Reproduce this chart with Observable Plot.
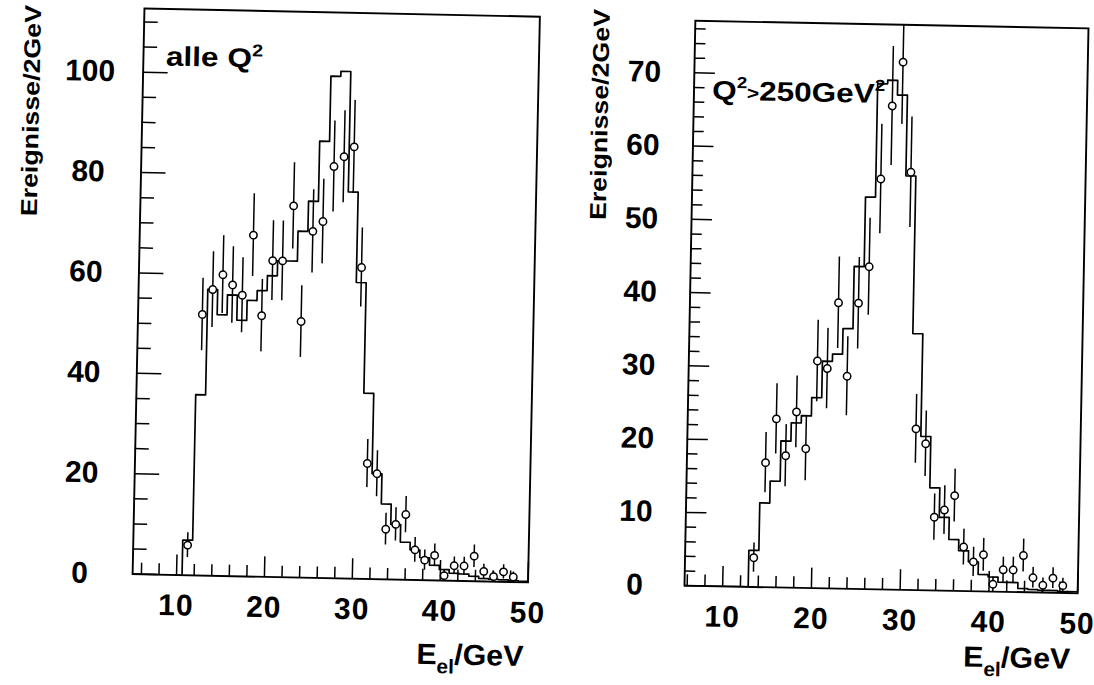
<!DOCTYPE html>
<html><head><meta charset="utf-8">
<script src="https://cdn.jsdelivr.net/npm/d3@7"></script>
<script src="https://cdn.jsdelivr.net/npm/@observablehq/plot@0.6"></script>
<style>
html,body{margin:0;padding:0;background:#fff;width:1094px;height:685px;overflow:hidden;font-family:"Liberation Sans",Arial,sans-serif;}
.panel{position:absolute;top:0;}
</style></head><body>
<div id="left" class="panel" style="left:0px"></div>
<div id="right" class="panel" style="left:560px"></div>
<script>
// ---- data ----
const binWidth = 1.125; // GeV
const binCenters = [5.5625,6.6875,7.8125,8.9375,10.0625,11.1875,12.3125,13.4375,14.5625,15.6875,16.8125,17.9375,19.0625,20.1875,21.3125,22.4375,23.5625,24.6875,25.8125,26.9375,28.0625,29.1875,30.3125,31.4375,32.5625,33.6875,34.8125,35.9375,37.0625,38.1875,39.3125,40.4375,41.5625,42.6875,43.8125,44.9375,46.0625,47.1875,48.3125,49.4375];

// left panel: alle Q^2
const histAll = [0,0,0,0,0,7,36,57,52,56,51,55,57,60,63,63,69,75,87,100,101,77,59,37,21,15,11,7.5,6,4.5,3,2.2,1.5,1.4,1,0.6,0.5,0.4,0.3,0.2];
const dataAllX = binCenters.slice(5, 39);
const dataAll = [6,52,57,60,58,56,68,52,63,63,74,51,69,71,82,84,86,62,23,21,10,11,13,6,4,5,1,3,3,5,2,1,2,1];
const errAll = [2.45,7.21,7.55,7.75,7.62,7.48,8.25,7.21,7.94,7.94,8.6,7.14,8.31,8.43,9.06,9.17,9.27,7.87,4.8,4.58,3.16,3.32,3.61,2.45,2,2.24,1,1.73,1.73,2.24,1.41,1,1.41,1];

// right panel: Q^2 > 250 GeV^2
const histHigh = [0,0,0,0,0,0,0,5,11.5,14.5,20,22.5,23.5,26,31,32,35.5,44,53.5,69,69.5,67.5,56.5,35,21,14,10,7,5.5,4,2.3,2,1.3,1.3,0.5,0.4,0.3,0.3,0.2,0.2];
const dataHighX = binCenters.slice(7, 39);
const dataHigh = [4,17,23,18,24,19,31,30,39,29,39,44,56,66,72,57,22,20,10,11,13,6,4,5,1,3,3,5,2,1,2,1];
const errHigh = [2,4.12,4.8,4.24,4.9,4.36,5.57,5.48,6.24,5.39,6.24,6.63,7.48,8.12,8.49,7.55,4.69,4.47,3.16,3.32,3.61,2.45,2,2.24,1,1.73,1.73,2.24,1.41,1,1.41,1];

const xTickLabels = [10, 20, 30, 40, 50];
const xMinorTicks = [6,8,12,14,16,18,22,24,26,28,32,34,36,38,42,44,46,48];
const yTickLabelsAll = [0, 20, 40, 60, 80, 100];
const yMinorAll = [5,10,15,25,30,35,45,50,55,65,70,75,85,90,95,105,110];
const yTickLabelsHigh = [0, 10, 20, 30, 40, 50, 60, 70];
const yMinorHigh = [2,4,6,8,12,14,16,18,22,24,26,28,32,34,36,38,42,44,46,48,52,54,56,58,62,64,66,68,72,74,76];

const FONT = '"Liberation Sans", Arial, Helvetica, sans-serif';

function makePanel(o) {
  const W = o.width, H = 685;
  const fw = W - o.ml - o.mr, fh = H - o.mt - o.mb;
  const steps = binCenters.map((c, i) => ({x: c - binWidth / 2, y: o.hist[i]}));
  steps.push({x: binCenters[binCenters.length - 1] + binWidth / 2, y: o.hist[o.hist.length - 1]});
  const pts = o.px.map((x, i) => ({x, y: o.pv[i], e: o.pe[i]}));
  const svg = Plot.plot({
    width: W, height: H,
    marginLeft: o.ml, marginRight: o.mr, marginTop: o.mt, marginBottom: o.mb,
    x: {domain: o.xd},
    y: {domain: o.yd},
    style: {fontFamily: FONT, fontWeight: "bold", color: "black", background: "transparent", overflow: "visible"},
    marks: [
      Plot.tickY(o.yMinor, {y: d => d, stroke: "black", strokeWidth: 1.5, insetRight: fw - o.yMinorLen}),
      Plot.tickY(o.yMajor, {y: d => d, stroke: "black", strokeWidth: 1.5, insetRight: fw - o.yMajorLen}),
      Plot.tickX(xMinorTicks, {x: d => d, stroke: "black", strokeWidth: 1.5, insetTop: fh - 11}),
      Plot.tickX(xTickLabels, {x: d => d, stroke: "black", strokeWidth: 1.5, insetTop: fh - 20}),
      Plot.line(steps, {x: "x", y: "y", curve: "step-after", stroke: "black", strokeWidth: 1.7, clip: true}),
      Plot.ruleX(pts, {x: "x", y1: d => d.y - d.e, y2: d => d.y + d.e, stroke: "black", strokeWidth: 1.5, clip: true}),
      Plot.dot(pts, {x: "x", y: "y", r: 3.7, fill: "white", stroke: "black", strokeWidth: 1.5}),
      Plot.frame({stroke: "black", strokeWidth: 1.9}),
      Plot.axisY({ticks: o.yMajor, tickSize: 0, tickPadding: o.yPad, textAnchor: "middle", fontSize: 30, fontWeight: "bold", label: null}),
      Plot.axisX({ticks: xTickLabels, tickSize: 0, tickPadding: 19, fontSize: 30, fontWeight: "bold", label: null})
    ]
  });
  const s = d3.select(svg);
  s.selectAll('[aria-label="x-axis tick label"] text').attr("letter-spacing", "1px");
  // y axis title
  s.append("text")
    .attr("transform", `translate(${o.ylabX},${o.ylabY}) rotate(-90)`)
    .attr("text-anchor", "middle").attr("dy", "0.35em")
    .attr("font-family", FONT).attr("font-weight", "bold").attr("font-size", 23)
    .attr("textLength", 211).attr("lengthAdjust", "spacingAndGlyphs")
    .attr("fill", "black")
    .text("Ereignisse/2GeV");
  // x axis title E_el/GeV
  const xt = s.append("text")
    .attr("x", o.xlabX).attr("y", o.xlabY)
    .attr("text-anchor", "end")
    .attr("font-family", FONT).attr("font-weight", "bold").attr("font-size", 29)
    .attr("textLength", 107).attr("lengthAdjust", "spacingAndGlyphs")
    .attr("fill", "black");
  xt.append("tspan").text("E");
  xt.append("tspan").attr("font-size", 20).attr("dy", 9).text("el");
  xt.append("tspan").attr("dy", -9).text("/GeV");
  // annotation
  const at = s.append("text")
    .attr("x", o.noteX).attr("y", o.noteY)
    .attr("text-anchor", "start")
    .attr("font-family", FONT).attr("font-weight", "bold").attr("font-size", 27)
    .attr("textLength", o.noteLen).attr("lengthAdjust", "spacingAndGlyphs")
    .attr("fill", "black");
  let cur = 0;
  o.note.forEach(p => {
    const t = at.append("tspan").text(p.t);
    if (p.size) t.attr("font-size", p.size);
    const off = p.off || 0;
    if (off !== cur) t.attr("dy", off - cur);
    cur = off;
  });
  return svg;
}

const leftSvg = makePanel({
  width: 560, ml: 138, mr: 26.5, mt: 12, mb: 107.2,
  xd: [5, 50], yd: [0, 112.7],
  hist: histAll, px: dataAllX, pv: dataAll, pe: errAll,
  yMajor: yTickLabelsAll, yMinor: yMinorAll, yMajorLen: 25, yMinorLen: 14, yPad: 53,
  ylabX: 27, ylabY: 117,
  xlabX: 531, xlabY: 662,
  noteX: 161, noteY: 69, noteLen: 97,
  note: [{t: "alle Q"}, {t: "2", size: 17, off: -11}]
});
document.getElementById("left").appendChild(leftSvg);
const L = document.getElementById("left");
L.style.transformOrigin = "335.75px 294.9px";
L.style.transform = "rotate(1.2deg)";

const rightSvg = makePanel({
  width: 534, ml: 129.4, mr: 11.4, mt: 24, mb: 96,
  xd: [5.7, 50], yd: [0, 77.1],
  hist: histHigh, px: dataHighX, pv: dataHigh, pe: errHigh,
  yMajor: yTickLabelsHigh, yMinor: yMinorHigh, yMajorLen: 21, yMinorLen: 11, yPad: 50,
  ylabX: 36, ylabY: 120,
  xlabX: 517, xlabY: 665,
  noteX: 148, noteY: 103, noteLen: 173,
  note: [{t: "Q"}, {t: "2", size: 16, off: -12}, {t: ">", size: 18, off: -1}, {t: "250GeV", off: 0}, {t: "2", size: 16, off: -12}]
});
document.getElementById("right").appendChild(rightSvg);
const R = document.getElementById("right");
R.style.transformOrigin = "326px 306.5px";
R.style.transform = "rotate(1.1deg)";
</script>
</body></html>
